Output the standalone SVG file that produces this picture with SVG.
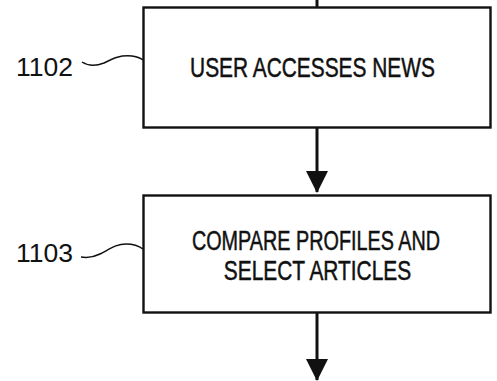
<svg xmlns="http://www.w3.org/2000/svg" width="497" height="381" viewBox="0 0 497 381">
<style>
.box{fill:#fff;stroke:#111;stroke-width:2.4}
.t{font-family:"Liberation Sans",Arial,sans-serif;font-size:27.5px;fill:#111;stroke:#111;stroke-width:0.5;text-anchor:middle}
.lbl{font-family:"Liberation Sans",Arial,sans-serif;font-size:25px;fill:#111}
.sq{fill:none;stroke:#111;stroke-width:1.5}
.ln{stroke:#111;stroke-width:3;fill:none}
</style>
<defs>
<marker id="ah" markerUnits="userSpaceOnUse" markerWidth="22" markerHeight="24" refX="21" refY="11" orient="auto">
<path d="M0,0 L22,11 L0,22 Z" fill="#111"/>
</marker>
</defs>
<rect width="497" height="381" fill="#fff"/>
<g id="connectors">
<line class="ln" x1="317" y1="0" x2="317" y2="7"/>
<line class="ln" x1="317" y1="128" x2="317" y2="192" marker-end="url(#ah)"/>
<line class="ln" x1="317" y1="312" x2="317" y2="380" marker-end="url(#ah)"/>
</g>
<g id="n1102">
<rect class="box" x="143.5" y="7.5" width="347" height="120"/>
<text class="t" transform="translate(312.5,77) scale(0.76,1)" x="0" y="0">USER ACCESSES NEWS</text>
<text class="lbl" x="16" y="76" textLength="57" lengthAdjust="spacingAndGlyphs">1102</text>
<path class="sq" d="M82,62 C88,66 94,67 104,63 C114,58 120,55 132,56 C138,57 141,58 143,60"/>
</g>
<g id="n1103">
<rect class="box" x="143.5" y="195.5" width="347" height="117"/>
<text class="t" transform="translate(316,250) scale(0.72,1)" x="0" y="0">COMPARE PROFILES AND</text>
<text class="t" transform="translate(317.5,280) scale(0.76,1)" x="0" y="0">SELECT ARTICLES</text>
<text class="lbl" x="16" y="262" textLength="57" lengthAdjust="spacingAndGlyphs">1103</text>
<path class="sq" d="M81,257 C87,258 92,258 100,254 C110,249 116,244 126,244 C134,244 139,246 143,249"/>
</g>
</svg>
